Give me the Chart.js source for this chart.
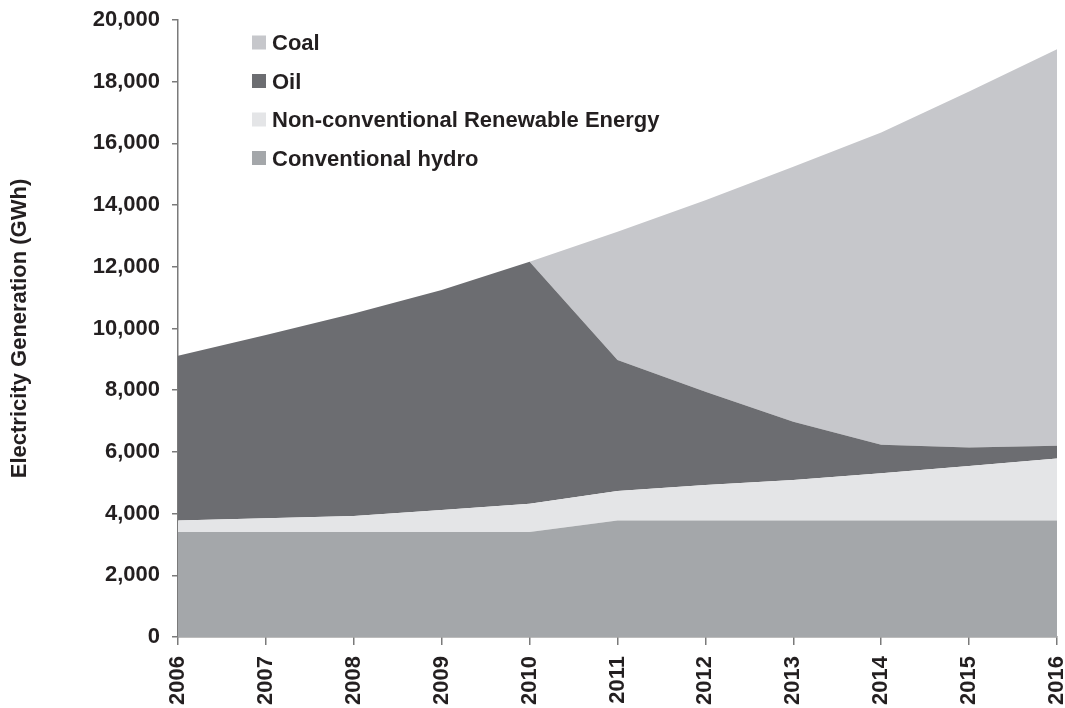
<!DOCTYPE html>
<html>
<head>
<meta charset="utf-8">
<script src="https://cdn.jsdelivr.net/npm/chart.js@4/dist/chart.umd.min.js"></script>
<style>
  html, body { margin: 0; padding: 0; background: #ffffff; }
  #wrap { width: 1065px; height: 708px; }
</style>
</head>
<body>
<div id="wrap"><canvas id="chart" width="1065" height="708"></canvas></div>
<script>
// Years on the x axis
const years = ["2006", "2007", "2008", "2009", "2010", "2011", "2012", "2013", "2014", "2015", "2016"]

// Generation by source, GWh
const hydro = [3400, 3400, 3400, 3400, 3400, 3780, 3780, 3780, 3780, 3780, 3780]
const ncre  = [380, 450, 520, 720, 920, 950, 1150, 1310, 1530, 1760, 2010]
const oil   = [5340, 5940, 6570, 7130, 7840, 4250, 3020, 1890, 920, 600, 410]
const coal  = [0, 0, 0, 0, 0, 4160, 6210, 8260, 10120, 11540, 12850]

const yTicks = [0, 2000, 4000, 6000, 8000, 10000, 12000, 14000, 16000, 18000, 20000]

const FONT = "'Liberation Sans', Arial, Helvetica, sans-serif"
const TEXT = "#231f20"
const AXIS = "#7a7a7a"

function area(label, data, color, fill) {
  return {
    label: label,
    data: data,
    backgroundColor: color,
    borderColor: color,
    borderWidth: 0,
    pointRadius: 0,
    pointHoverRadius: 0,
    tension: 0,
    fill: fill
  }
}

// Legend drawn inside the plot, top-left, Coal first (reverse of stacking)
const insideLegend = {
  id: "insideLegend",
  afterDraw(chart) {
    const ctx = chart.ctx
    const items = chart.data.datasets.slice().reverse()
    const x0 = 252
    const y0 = 42.5
    const rowGap = 38.5
    ctx.save()
    ctx.font = "bold 22px " + FONT
    ctx.textAlign = "left"
    ctx.textBaseline = "alphabetic"
    items.forEach((ds, i) => {
      const cy = y0 + i * rowGap
      ctx.fillStyle = ds.backgroundColor
      ctx.fillRect(x0, cy - 7, 14, 14)
      ctx.fillStyle = TEXT
      ctx.fillText(ds.label, x0 + 20, cy + 7.5)
    })
    ctx.restore()
  }
}

new Chart(document.getElementById("chart"), {
  type: "line",
  data: {
    labels: years,
    datasets: [
      area("Conventional hydro", hydro, "#a4a7aa", "origin"),
      area("Non-conventional Renewable Energy", ncre, "#e4e5e7", "-1"),
      area("Oil", oil, "#6c6d71", "-1"),
      area("Coal", coal, "#c6c7cb", "-1")
    ]
  },
  options: {
    responsive: false,
    animation: false,
    layout: { padding: { left: 0, right: 8, top: 20, bottom: 0 } },
    plugins: {
      legend: { display: false },
      tooltip: { enabled: false }
    },
    scales: {
      x: {
        offset: false,
        grid: { drawOnChartArea: false, drawTicks: true, tickLength: 8, color: AXIS, lineWidth: 1.5 },
        border: { display: true, color: AXIS, width: 1.5 },
        ticks: {
          color: TEXT,
          font: { family: FONT, size: 22, weight: "bold" },
          minRotation: 90,
          maxRotation: 90,
          padding: 11,
          autoSkip: false
        },
        afterFit(scale) {
          scale.height = 71
          scale.paddingLeft = 0
          scale.paddingRight = 0
        }
      },
      y: {
        stacked: true,
        min: 0,
        max: 20000,
        afterBuildTicks(scale) {
          scale.ticks = yTicks.map(v => ({ value: v }))
        },
        grid: { drawOnChartArea: false, drawTicks: true, tickLength: 6, color: AXIS, lineWidth: 1.5 },
        border: { display: true, color: AXIS, width: 1.5 },
        ticks: {
          color: TEXT,
          font: { family: FONT, size: 22, weight: "bold" },
          padding: 12,
          callback: function(value) {
            return value.toLocaleString("en-US")
          }
        },
        title: {
          display: true,
          text: "Electricity Generation (GWh)",
          color: TEXT,
          font: { family: FONT, size: 22, weight: "bold" },
          padding: { top: 7, bottom: 0 }
        },
        afterFit(scale) {
          scale.width = 178
          scale.paddingTop = 0
          scale.paddingBottom = 0
        }
      }
    }
  },
  plugins: [insideLegend]
})
</script>
</body>
</html>
